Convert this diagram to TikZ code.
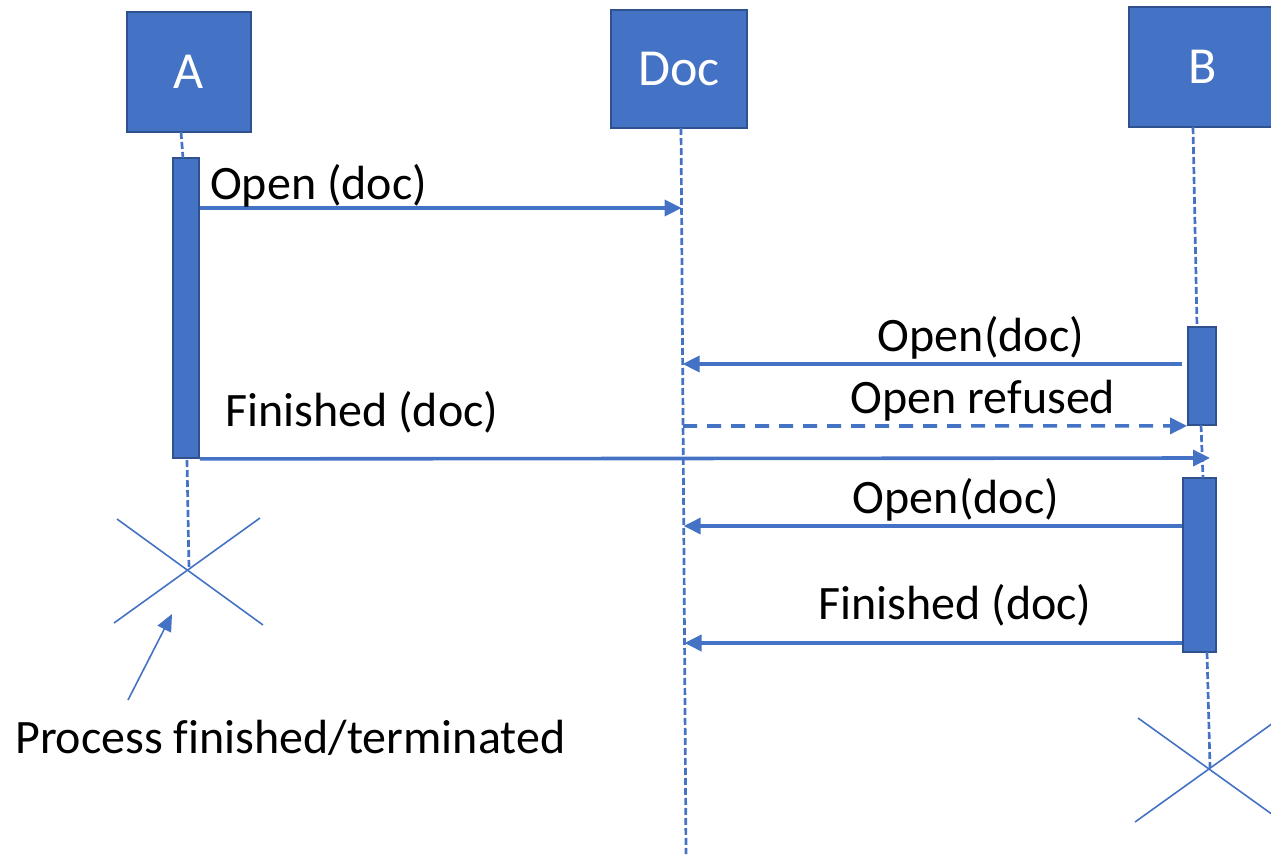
\documentclass[tikz,border=0pt]{standalone}
\usepackage{fontspec}
\setmainfont{Carlito}[Ligatures=NoCommon]
\usetikzlibrary{arrows.meta}
\definecolor{obox}{HTML}{4472C4}
\definecolor{oedge}{HTML}{2F528F}

\begin{document}
\begin{tikzpicture}[x=1pt,y=-1pt,
  head/.style={draw=oedge, line width=1.8pt, fill=obox, text=white,
    font=\fontsize{52}{60}\selectfont, inner sep=0pt},
  bar/.style={draw=oedge, line width=1.8pt, fill=obox, inner sep=0pt},
  life/.style={draw=obox, line width=2.7pt, dash pattern=on 7pt off 3pt},
  msg/.style={draw=obox, line width=3.6pt, -{Triangle[length=17pt,width=16pt]}},
  reply/.style={msg, dash pattern=on 14pt off 10pt},
  lbl/.style={font=\fontsize{48}{56}\selectfont, inner sep=0pt, anchor=base},
  cross/.style={draw=obox, line width=1.6pt},
  ptr/.style={draw=obox, line width=1.6pt, -{Triangle[length=17pt,width=15pt]}}]
\useasboundingbox (0,0) rectangle (1271,854);

% participants
\node[head, minimum width=124pt, minimum height=120pt] (hA) at (189,72) {A};
\node[head, minimum width=136pt, minimum height=118pt] (hDoc) at (679,69) {Doc};
\node[head, minimum width=148pt, minimum height=120pt] (hB) at (1203,67) {B};

% activation bars
\node[bar, minimum width=26pt, minimum height=300pt] (actA) at (186,308) {};
\node[bar, minimum width=28pt, minimum height=98pt] (actB1) at (1202,376) {};
\node[bar, minimum width=33pt, minimum height=174pt] (actB2) at (1199.5,565) {};

% lifeline points
\coordinate (aTop) at (181,132);
\coordinate (aBar) at (183,158);
\coordinate (aLow) at (187,460);
\coordinate (xA) at (189,569);
\coordinate (docTop) at (681,128);
\coordinate (docEnd) at (686,854);
\coordinate (bTop) at (1193,127);
\coordinate (bBar1) at (1197,327);
\coordinate (bMid1) at (1201,425);
\coordinate (bMid2) at (1203,478);
\coordinate (bLow) at (1207,652);
\coordinate (xB) at (1210,768);

% lifelines
\draw[life] (aTop) -- (aBar);
\draw[life] (aLow) -- (xA);
\draw[life] (docTop) -- (docEnd);
\draw[life] (bTop) -- (bBar1);
\draw[life] (bMid1) -- (bMid2);
\draw[life] (bLow) -- (xB);

% message end points on the Doc lifeline
\coordinate (d1) at (681.6,208);
\coordinate (d2) at (682.6,364);
\coordinate (d3) at (683,426);
\coordinate (d5) at (683.7,526);
\coordinate (d6) at (684.5,643);
\coordinate (bFin) at (1210,458);

% messages
\draw[msg] (actA.east |- d1) -- (d1);
\node[lbl, anchor=base west] (t1) at (210,199) {Open (doc)};

\draw[msg] ([xshift=-5pt]actB1.west |- d2) -- (d2);
\node[lbl] (t2) at (981,351) {Open(doc)};

\draw[reply] (d3) -- (actB1.south west);
\node[lbl] (t3) at (983,413) {Open refused};

\draw[msg] (actA.south east) -- (bFin);
\node[lbl, anchor=base west] (t4) at (225,426) {Finished (doc)};

\draw[msg] (actB2.west |- d5) -- (d5);
\node[lbl] (t5) at (956,513) {Open(doc)};

\draw[msg] (actB2.west |- d6) -- (d6);
\node[lbl] (t6) at (955,619) {Finished (doc)};

% terminations
\draw[cross] (117,519) -- (263,625);
\draw[cross] (114,623) -- (260,518);
\draw[cross] (1138,718) -- (1280,820);
\draw[cross] (1135,822) -- (1280,718);

% note
\node[lbl, anchor=base west] (note) at (15,753) {Process finished/terminated};
\coordinate (ptrFrom) at (128,700);
\coordinate (ptrTip) at (172,614);
\draw[ptr] (ptrFrom) -- (ptrTip);
\end{tikzpicture}
\end{document}
